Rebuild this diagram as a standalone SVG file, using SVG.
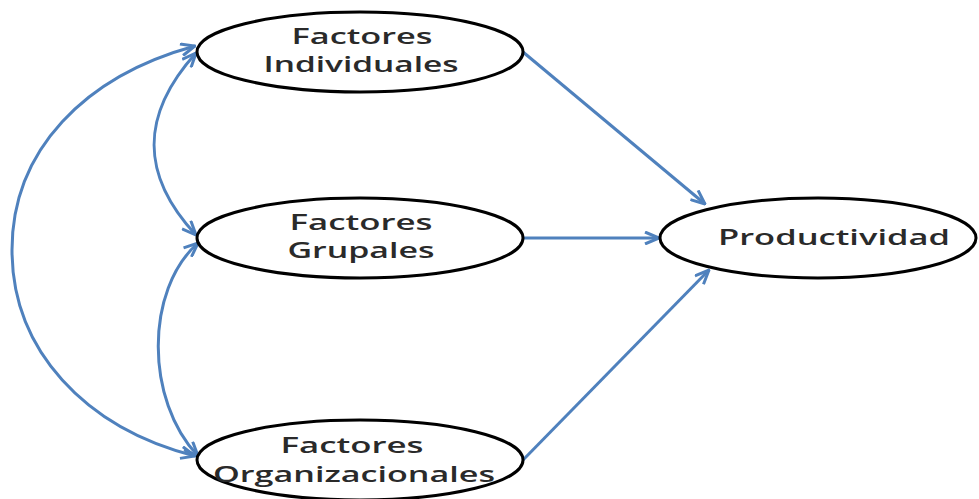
<svg xmlns="http://www.w3.org/2000/svg" width="979" height="499" viewBox="0 0 979 499">
  <style>
    .node ellipse { fill: #ffffff; stroke: #000000; stroke-width: 3; }
    .node text { font-family: "Open Sans", "Liberation Sans", sans-serif; font-size: 21px; font-weight: 600; fill: #2a2a2a; text-anchor: middle; }
    .edge { fill: none; stroke: #4F81BD; stroke-width: 3; }
  </style>
  <defs>
    <marker id="arrow" markerUnits="userSpaceOnUse" viewBox="0 0 16 14" refX="15" refY="7" markerWidth="16" markerHeight="14" orient="auto-start-reverse">
      <path d="M1,1 L15,7 L1,13" fill="none" stroke="#4F81BD" stroke-width="3"/>
    </marker>
  </defs>
  <rect width="979" height="499" fill="#ffffff"/>

  <g id="connectors">
    <path class="edge" d="M523,52 L705,204" marker-end="url(#arrow)"/>
    <path class="edge" d="M523,238 L659,238" marker-end="url(#arrow)"/>
    <path class="edge" d="M523,460 L709,270" marker-end="url(#arrow)"/>
    <path class="edge" d="M195,46 C85,76 12,150 12,250 C12,350 85,428 195,456" marker-start="url(#arrow)" marker-end="url(#arrow)"/>
    <path class="edge" d="M196,53 C140,115 140,175 196,235" marker-start="url(#arrow)" marker-end="url(#arrow)"/>
    <path class="edge" d="M198,243 C145,290 145,400 198,456" marker-start="url(#arrow)" marker-end="url(#arrow)"/>
  </g>

  <g id="individuales" class="node">
    <ellipse cx="360" cy="52" rx="163" ry="40"/>
    <text x="362" y="44" textLength="141" lengthAdjust="spacingAndGlyphs">Factores</text>
    <text x="361" y="72" textLength="195" lengthAdjust="spacingAndGlyphs">Individuales</text>
  </g>
  <g id="grupales" class="node">
    <ellipse cx="360" cy="238" rx="163" ry="40"/>
    <text x="361" y="230" textLength="143" lengthAdjust="spacingAndGlyphs">Factores</text>
    <text x="361" y="258" textLength="147" lengthAdjust="spacingAndGlyphs">Grupales</text>
  </g>
  <g id="organizacionales" class="node">
    <ellipse cx="360" cy="460" rx="163" ry="40"/>
    <text x="352" y="453" textLength="143" lengthAdjust="spacingAndGlyphs">Factores</text>
    <text x="354" y="482" textLength="282" lengthAdjust="spacingAndGlyphs">Organizacionales</text>
  </g>
  <g id="productividad" class="node">
    <ellipse cx="818" cy="238" rx="158" ry="40"/>
    <text x="834" y="245" textLength="232" lengthAdjust="spacingAndGlyphs">Productividad</text>
  </g>
</svg>
